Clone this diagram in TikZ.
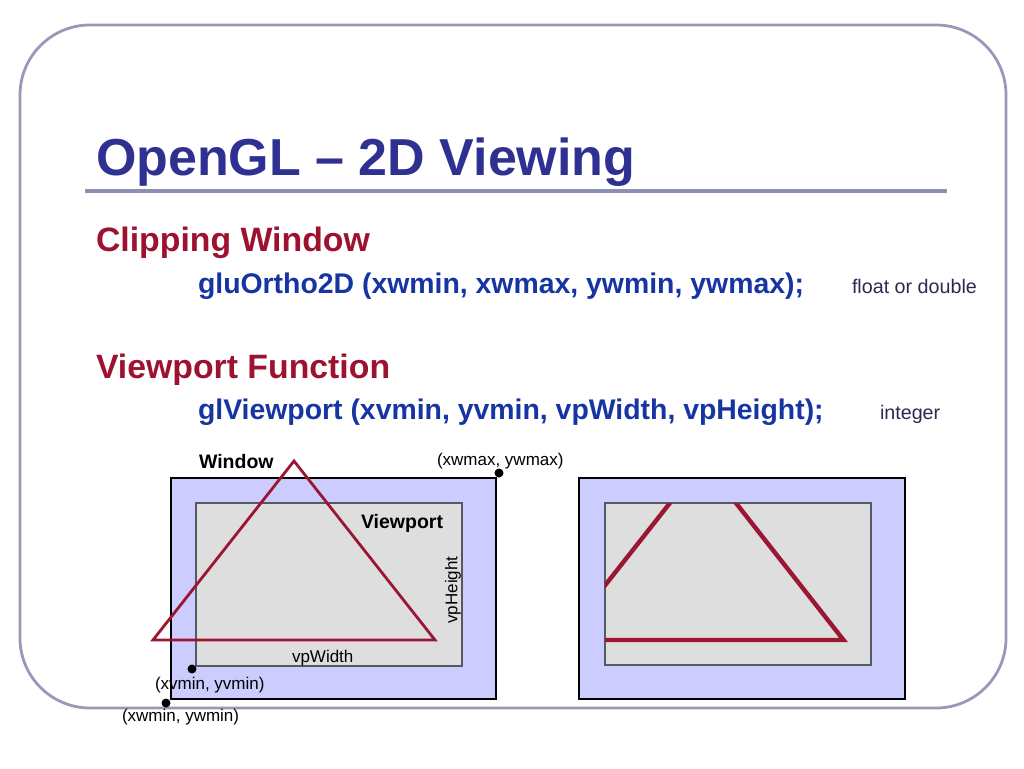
\documentclass[tikz,border=0pt]{standalone}
\usepackage{fontspec}
\setmainfont{Liberation Sans}
\definecolor{framec}{RGB}{150,154,184}
\definecolor{rulec}{RGB}{140,144,178}
\definecolor{titlec}{RGB}{46,49,146}
\definecolor{headc}{RGB}{158,18,48}
\definecolor{codec}{RGB}{22,52,162}
\definecolor{notec}{RGB}{40,42,82}
\definecolor{tric}{RGB}{155,22,50}
\definecolor{lavc}{RGB}{204,204,255}
\definecolor{vpfill}{RGB}{222,222,222}
\definecolor{vpline}{RGB}{85,90,96}
\tikzset{
  txt/.style={anchor=base west, inner sep=0pt, outer sep=0pt},
  titletxt/.style={txt, text=titlec, font=\fontsize{52}{60}\selectfont\bfseries},
  headtxt/.style={txt, text=headc, font=\fontsize{33.8}{40}\selectfont\bfseries},
  codetxt/.style={txt, text=codec, font=\fontsize{28.4}{34}\selectfont\bfseries},
  notetxt/.style={txt, text=notec, font=\fontsize{19.7}{24}\selectfont},
  lbl/.style={txt, text=black, font=\fontsize{17}{20}\selectfont},
  blbl/.style={txt, text=black, font=\fontsize{19.5}{23}\selectfont\bfseries},
  winbox/.style={draw=black, line width=2.8pt, fill=lavc},
  vpbox/.style={draw=vpline, line width=2.8pt, fill=vpfill},
  triline/.style={draw=tric, line width=2.8pt, line join=miter},
  clipline/.style={draw=tric, line width=4.4pt},
  dotc/.style={fill=black}
}
\begin{document}
\begin{tikzpicture}[x=1pt,y=-1pt]
\useasboundingbox (0,0) rectangle (1024,768);
% slide frame
\draw[framec, line width=2.8pt, rounded corners=70pt] (20,25) rectangle (1006,708);
% title
\node[titletxt] (title) at (96,175) {OpenGL – 2D Viewing};
\draw[rulec, line width=4pt] (85,191) -- (947,191);
% headings and code
\node[headtxt] (h1) at (96,251) {Clipping Window};
\node[codetxt] (c1) at (198,293) {gluOrtho2D (xwmin, xwmax, ywmin, ywmax);};
\node[notetxt] (n1) at (852,293) {float or double};
\node[headtxt] (h2) at (96,378) {Viewport Function};
\node[codetxt] (c2) at (198,419) {glViewport (xvmin, yvmin, vpWidth, vpHeight);};
\node[notetxt] (n2) at (880,419) {integer};
% left diagram
\coordinate (wmin) at (171,699);
\coordinate (wmax) at (496,478);
\coordinate (vmin) at (196,666);
\coordinate (vmax) at (462,503);
\draw[winbox] (wmin) rectangle (wmax);
\draw[vpbox] (vmin) rectangle (vmax);
\coordinate (ta) at (294,461);
\coordinate (tb) at (153,640);
\coordinate (tc) at (435,640);
\draw[triline] (ta) -- (tb) -- (tc) -- cycle;
\node[blbl] (winlbl) at (199,468) {Window};
\node[blbl] (vplbl) at (361,528) {Viewport};
\node[lbl] (wmaxlbl) at (437,465) {(xwmax, ywmax)};
\node[lbl] (wlbl) at (292,662) {vpWidth};
\node[lbl, anchor=center, rotate=90] (hlbl) at (453,590) {vpHeight};
\node[lbl] (vminlbl) at (155,689) {(xvmin, yvmin)};
\node[lbl] (wminlbl) at (122,721) {(xwmin, ywmin)};
\fill[dotc] (499,473) circle (4.5pt);
\fill[dotc] (192,669) circle (4.5pt);
\fill[dotc] (166,703) circle (4.5pt);
% right diagram
\coordinate (rwmin) at (579,699);
\coordinate (rwmax) at (905,478);
\coordinate (rvmin) at (605,665);
\coordinate (rvmax) at (871,503);
\draw[winbox] (rwmin) rectangle (rwmax);
\draw[vpbox] (rvmin) rectangle (rvmax);
\begin{scope}
  \clip (rvmin) rectangle (rvmax);
  \draw[clipline] (703,461) -- (562,640) -- (843.5,640) -- cycle;
\end{scope}
\end{tikzpicture}
\end{document}
